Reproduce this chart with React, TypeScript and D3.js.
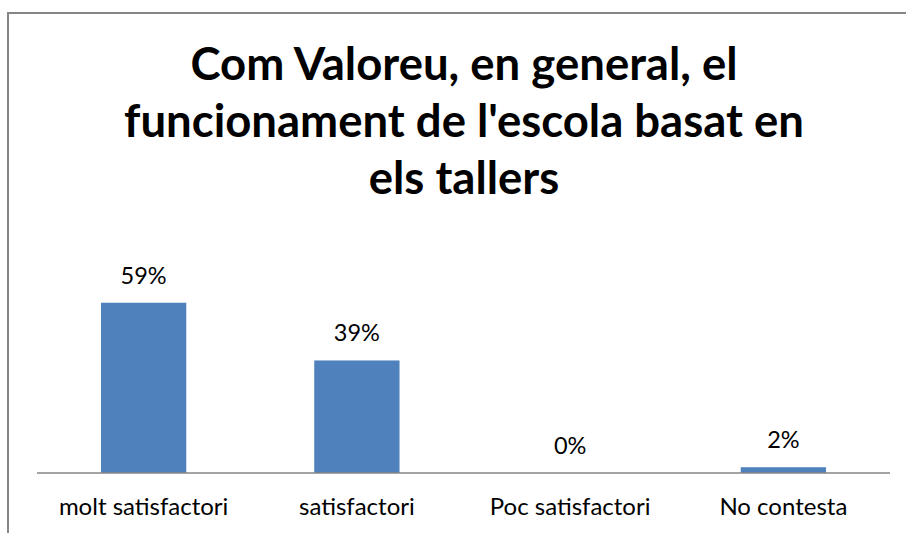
import * as d3 from 'd3'

const categories = ['molt satisfactori', 'satisfactori', 'Poc satisfactori', 'No contesta']
const values = [0.59, 0.39, 0, 0.02]
const titleLines = ['Com Valoreu, en general, el', "funcionament de l'escola basat en", 'els tallers']

const width = 906,
      height = 533,
      axisY = 473,
      font = 'Lato, "Open Sans", sans-serif'

const xScale = d3.scaleBand<string>()
  .domain(categories)
  .range([37, 890])
  .paddingInner(0.6)
  .paddingOuter(0.3)

const yScale = d3.scaleLinear()
  .domain([0, 0.7])
  .range([axisY, 271])

const pct = d3.format('.0%')

export default function App() {
  return (
    <svg width={width} height={height}
      style={{ position: 'absolute', left: 0, top: 0, background: '#fff' }}>
      <rect x={8} y={13} width={1000} height={600} fill='none' stroke='#868686' strokeWidth={2} />

      <g className='title'>
        {titleLines.map((t, i) => (
          <text key={t} x={464} y={80 + i * 57} textAnchor='middle'
            fontFamily={font} fontWeight='bold' fontSize={45.5} fill='#000'>{t}</text>
        ))}
      </g>

      <g className='bars'>
        {categories.map((c, i) => (
          <rect key={c} x={xScale(c)} y={yScale(values[i])}
            width={xScale.bandwidth()} height={axisY - yScale(values[i])} fill='#4F81BD' />
        ))}
      </g>

      <line x1={37} x2={890} y1={axisY} y2={axisY} stroke='#868686' strokeWidth={1.5} />

      <g className='labels'>
        {categories.map((c, i) => {
          const cx = (xScale(c) ?? 0) + xScale.bandwidth() / 2
          return (
            <g key={c}>
              <text x={cx} y={yScale(values[i]) - 19} textAnchor='middle'
                fontFamily={font} fontSize={23.5} fill='#000'>{pct(values[i])}</text>
              <text x={cx} y={515} textAnchor='middle'
                fontFamily={font} fontSize={24} fill='#000'>{c}</text>
            </g>
          )
        })}
      </g>
    </svg>
  )
}
